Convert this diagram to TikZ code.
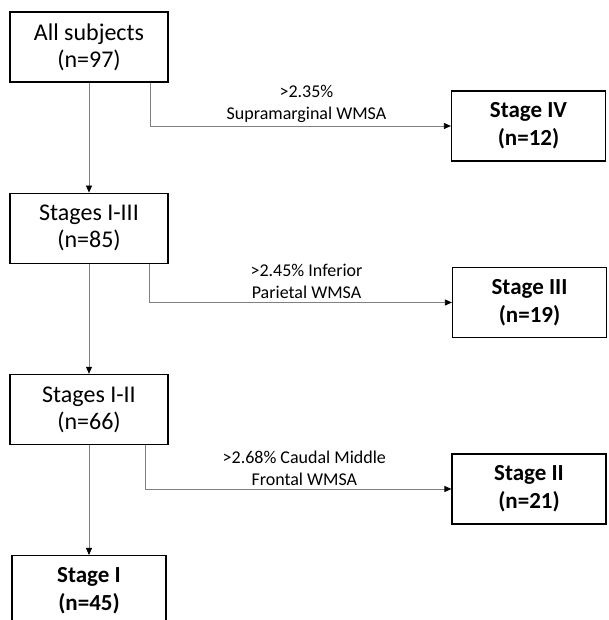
\documentclass[tikz,border=0pt]{standalone}
\usepackage{fontspec}
\setmainfont{Carlito}
\usetikzlibrary{arrows.meta, positioning}
\tikzstyle{block} = [draw, line width=1.2pt, fill=white, rectangle, minimum width=158pt, minimum height=70pt, align=center, font=\fontsize{24}{27}\selectfont]
\tikzstyle{stage} = [block, minimum width=154pt, font=\fontsize{23}{28}\selectfont\bfseries]
\tikzstyle{rule} = [above, align=center, inner sep=3pt, font=\fontsize{18}{22}\selectfont]
\tikzstyle{link} = [draw=gray, line width=0.8pt]

\begin{document}
\begin{tikzpicture}[x=1pt, y=1pt, node distance=110pt, >={Triangle[length=7pt,width=6pt,color=black]}]
    \clip (0,0) rectangle (608,620);
    \node [block] (all) at (89,573) {All subjects\\(n=97)};
    \node [block, below=of all] (s13) {Stages I-III\\(n=85)};
    \node [block, below=of s13] (s12) {Stages I-II\\(n=66)};
    \node [stage, below=of s12] (s1) {Stage I\\(n=45)};
    \node [stage] (s4) at (528.5,494) {Stage IV\\(n=12)};
    \node [stage] (s3) at (529.5,317.5) {Stage III\\(n=19)};
    \node [stage] (s2) at (529,131) {Stage II\\(n=21)};
    \draw [link,->] (all) -- (s13);
    \draw [link,->] (s13) -- (s12);
    \draw [link,->] (s12) -- (s1);
    \draw [link,->] ([xshift=61pt]all.south) |- node [rule, pos=0.76] {>2.35\%\\Supramarginal WMSA} (s4);
    \draw [link,->] ([xshift=60pt]s13.south) |- node [rule, pos=0.76] {>2.45\% Inferior\\Parietal WMSA} (s3);
    \draw [link,->] ([xshift=56pt]s12.south) |- node [rule, pos=0.76] {>2.68\% Caudal Middle\\Frontal WMSA} (s2);
\end{tikzpicture}
\end{document}
